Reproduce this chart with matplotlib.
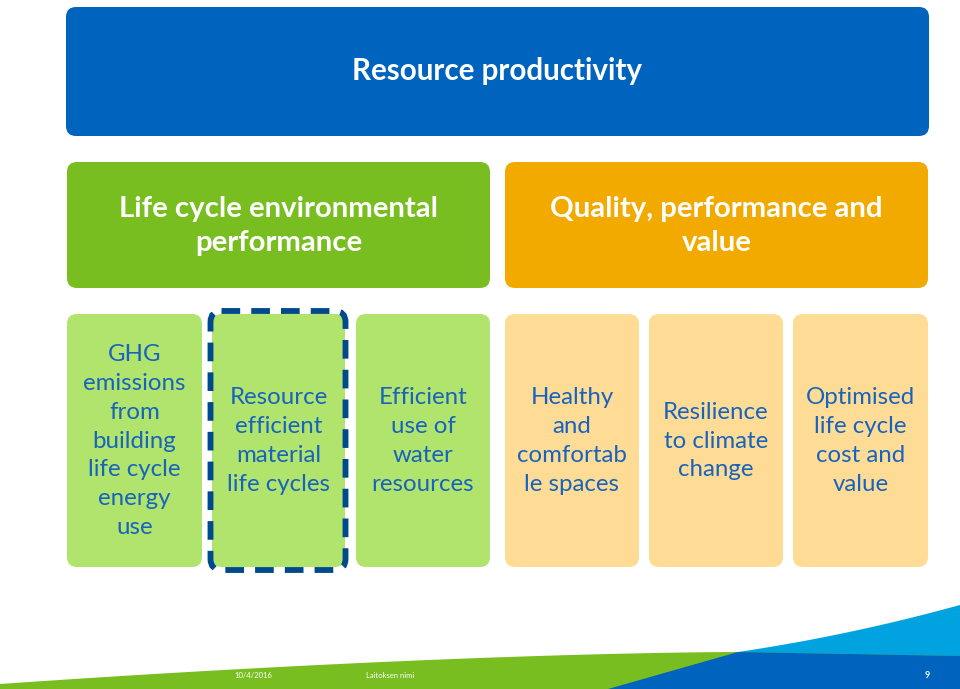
import matplotlib
matplotlib.use("Agg")
import matplotlib.pyplot as plt
import numpy as np
from matplotlib.patches import FancyBboxPatch, Polygon

plt.rcParams['font.family'] = ['Lato', 'DejaVu Sans']

# texts
title = "Resource productivity"
headers = ["Life cycle environmental\nperformance", "Quality, performance and\nvalue"]
cells = [
    "GHG\nemissions\nfrom\nbuilding\nlife cycle\nenergy\nuse",
    "Resource\nefficient\nmaterial\nlife cycles",
    "Efficient\nuse of\nwater\nresources",
    "Healthy\nand\ncomfortab\nle spaces",
    "Resilience\nto climate\nchange",
    "Optimised\nlife cycle\ncost and\nvalue",
]
footer_date = "10/4/2016"
footer_dept = "Laitoksen nimi"
page_no = "9"

# colours
blue = "#0063BE"
green = "#78BE20"
orange = "#F2A900"
light_green = "#B0E46C"
light_orange = "#FEDC95"
cell_text = "#1863BD"
navy = "#00498C"
sky = "#00A3E0"

fig = plt.figure(figsize=(9.6, 6.89), dpi=100)
ax = fig.add_axes([0, 0, 1, 1])
ax.set_xlim(0, 960)
ax.set_ylim(689, 0)
ax.axis("off")


def box(x0, y0, x1, y1, color, r=10, **kw):
    p = FancyBboxPatch((x0, y0), x1 - x0, y1 - y0,
                       boxstyle=f"round,pad=0,rounding_size={r}",
                       facecolor=color, edgecolor="none", **kw)
    ax.add_patch(p)
    return p


# top bar
box(66, 7, 929, 136, blue)
ax.text(497, 71, title, color="white", fontsize=21.3, fontweight="bold",
        ha="center", va="center")

# headers
hdr_x = [(67, 490), (505, 928)]
for (x0, x1), txt, c in zip(hdr_x, headers, [green, orange]):
    box(x0, 162, x1, 288, c)
    ax.text((x0 + x1) / 2, 226, txt, color="white", fontsize=21.2,
            fontweight="bold", ha="center", va="center", linespacing=1.38)

# cells
cell_x = [(67, 202), (212, 345), (356, 490), (505, 639), (649, 783), (793, 928)]
for i, ((x0, x1), txt) in enumerate(zip(cell_x, cells)):
    c = light_green if i < 3 else light_orange
    box(x0, 314, x1, 567, c)
    ax.text((x0 + x1) / 2, 441, txt, color=cell_text, fontsize=17.3,
            ha="center", va="center", linespacing=1.47)

# dashed highlight around second cell
hl = FancyBboxPatch((210.5, 311), 135, 259,
                    boxstyle="round,pad=0,rounding_size=11",
                    facecolor="none", edgecolor=navy, linewidth=4.2,
                    linestyle=(0, (3.2, 1.9)), zorder=5)
ax.add_patch(hl)

# footer swooshes
xs = np.linspace(0, 960, 200)
g_top = 684 - 32 * (1 - (1 - np.minimum(xs, 740) / 740) ** 1.6)
green_poly = np.vstack([np.column_stack([xs, g_top]), [[960, 689], [0, 689]]])
ax.add_patch(Polygon(green_poly, closed=True, facecolor=green, edgecolor="none"))

lx = np.linspace(738, 960, 80)
t = (lx - 738) / 222
l_top = 652 - 47 * (t * 0.7 + 0.3 * t ** 2)
d_top = 652 + 4 * t
sky_poly = np.vstack([np.column_stack([lx, l_top]),
                      np.column_stack([lx[::-1], d_top[::-1]])])
ax.add_patch(Polygon(sky_poly, closed=True, facecolor=sky, edgecolor="none"))

dark_poly = np.vstack([[[608, 689]], np.column_stack([lx, d_top]), [[960, 689]]])
ax.add_patch(Polygon(dark_poly, closed=True, facecolor=blue, edgecolor="none"))

ax.text(253, 675, footer_date, color="white", fontsize=5.5, ha="center", va="center")
ax.text(390, 675, footer_dept, color="white", fontsize=5.5, ha="center", va="center")
ax.text(927, 675, page_no, color="white", fontsize=6.5, fontweight="bold",
        ha="center", va="center")

fig.savefig("out.png", dpi=100)
